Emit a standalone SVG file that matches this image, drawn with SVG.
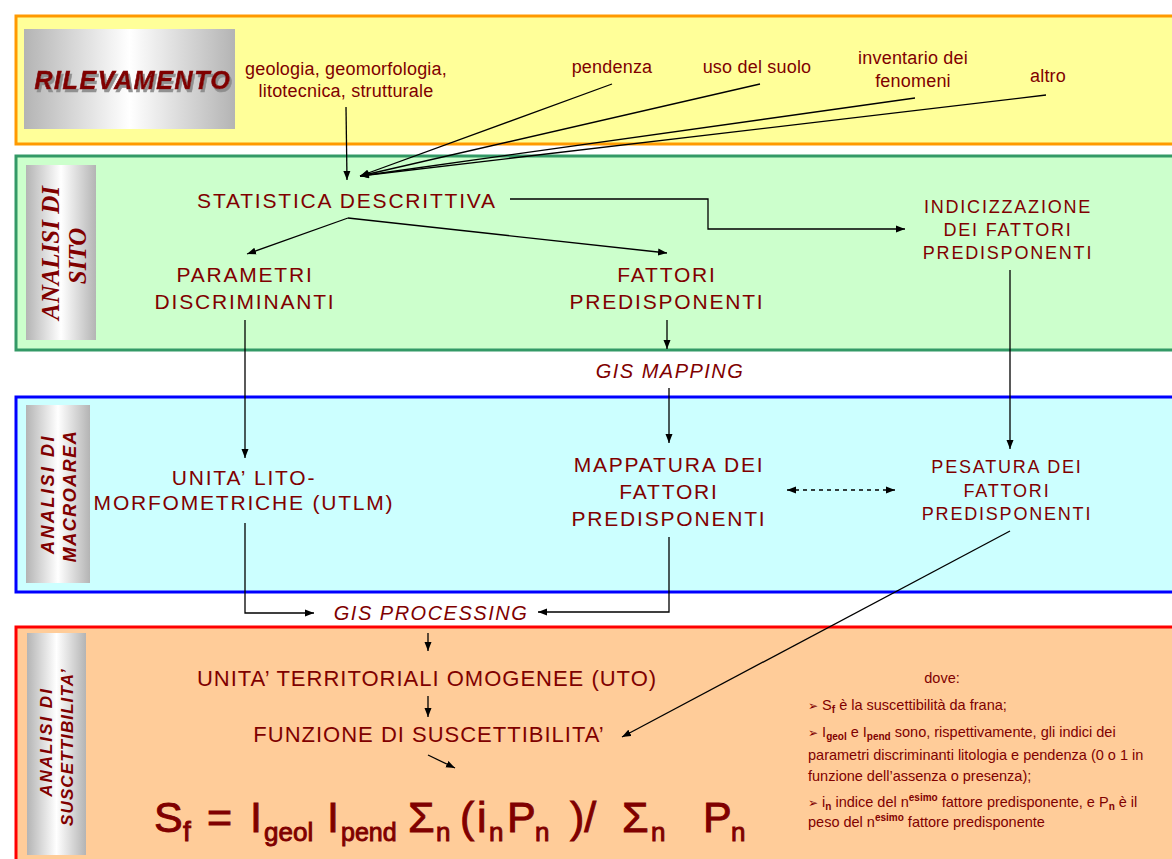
<svg xmlns="http://www.w3.org/2000/svg" width="1172" height="859" viewBox="0 0 1172 859">
<defs>
<linearGradient id="gh" x1="0" y1="0" x2="1" y2="0">
<stop offset="0" stop-color="#b4b4b4"/><stop offset="0.5" stop-color="#ffffff"/><stop offset="1" stop-color="#b4b4b4"/>
</linearGradient>
<filter id="sh" x="-10%" y="-30%" width="120%" height="160%">
<feDropShadow dx="2" dy="3" stdDeviation="0.6" flood-color="#888888" flood-opacity="0.9"/>
</filter>
<marker id="ah" markerUnits="userSpaceOnUse" markerWidth="10" markerHeight="8" refX="9" refY="4" orient="auto-start-reverse">
<path d="M0,0.5 L9,4 L0,7.5 z" fill="#000"/>
</marker>
</defs>
<style>
.t{font-family:"Liberation Sans",Arial,sans-serif;fill:#800000;text-anchor:middle}
.n{font-size:21px;letter-spacing:1.8px}
.s{font-size:18px;letter-spacing:1.8px}
.l{font-size:18px;letter-spacing:0.2px}
.g{font-size:20px;font-style:italic;letter-spacing:1.5px}
.u{font-size:22px;letter-spacing:1px}
.v{font-family:"Liberation Sans",Arial,sans-serif;font-weight:bold;font-style:italic;fill:#800000;text-anchor:middle}
.vs{font-family:"Liberation Serif","Times New Roman",serif;font-weight:bold;font-style:italic;fill:#800000;text-anchor:middle;font-size:25px}
.c{stroke:#000;stroke-width:1.3;fill:none}
.a{marker-end:url(#ah)}
.f{font-family:"Liberation Sans",Arial,sans-serif;fill:#800000;stroke:#800000;stroke-width:0.9}
.d{font-family:"Liberation Sans",Arial,sans-serif;fill:#800000;font-size:14.5px}
.b{font-family:"DejaVu Sans",sans-serif;font-size:12px}
.sb{font-size:10px;font-weight:bold}
.lab{fill:url(#gh)}
</style>
<rect width="1172" height="859" fill="#ffffff"/>

<g id="panel-rilevamento">
<rect x="16" y="16" width="1170" height="128" fill="#FFFF99" stroke="#FF9900" stroke-width="3"/>
<rect class="lab" x="24" y="29" width="211" height="100"/>
<text x="133" y="89" class="v" font-size="25" letter-spacing="1.6" stroke="#800000" stroke-width="0.6" filter="url(#sh)">RILEVAMENTO</text>
</g>

<g id="panel-sito">
<rect x="16" y="156" width="1170" height="194" fill="#CCFFCC" stroke="#339966" stroke-width="3"/>
<rect class="lab" x="26" y="165" width="70" height="175"/>
<text class="vs" transform="translate(59,253) rotate(-90)">ANALISI DI</text>
<text class="vs" transform="translate(86,256) rotate(-90)">SITO</text>
</g>

<g id="panel-macroarea">
<rect x="16" y="397" width="1170" height="195" fill="#CCFFFF" stroke="#0000FF" stroke-width="3"/>
<rect class="lab" x="26" y="405" width="64" height="178"/>
<text class="v" font-size="18" letter-spacing="2.5" transform="translate(54,494) rotate(-90)">ANALISI DI</text>
<text class="v" font-size="18" letter-spacing="1.5" transform="translate(76,496) rotate(-90)">MACROAREA</text>
</g>

<g id="panel-suscettibilita">
<rect x="16" y="627" width="1170" height="250" fill="#FFCC99" stroke="#FF0000" stroke-width="3"/>
<rect class="lab" x="27" y="633" width="59" height="222"/>
<text class="v" font-size="17" letter-spacing="2" transform="translate(52,742) rotate(-90)">ANALISI DI</text>
<text class="v" font-size="17" letter-spacing="1.1" transform="translate(73,747) rotate(-90)">SUSCETTIBILITA’</text>
</g>

<g id="connectors">
<line class="c a" x1="346" y1="107" x2="347" y2="180"/>
<line class="c a" x1="612" y1="84" x2="360" y2="176"/>
<line class="c a" x1="760" y1="84" x2="360" y2="176"/>
<line class="c a" x1="915" y1="98" x2="360" y2="176"/>
<line class="c a" x1="1046" y1="95" x2="360" y2="176"/>
<line class="c a" x1="348" y1="218" x2="247" y2="254"/>
<line class="c a" x1="348" y1="218" x2="667" y2="253"/>
<polyline class="c a" points="510,199 708,199 708,229 905,229"/>
<line class="c a" x1="667" y1="320" x2="667" y2="349"/>
<line class="c a" x1="669" y1="388" x2="669" y2="443"/>
<line class="c a" x1="1010" y1="270" x2="1010" y2="449"/>
<line class="c a" x1="245" y1="320" x2="245" y2="458"/>
<line class="c a" x1="787" y1="490" x2="895" y2="490" stroke-dasharray="4,4" marker-start="url(#ah)"/>
<polyline class="c a" points="245,523 245,613 314,613"/>
<polyline class="c a" points="669,537 669,612 538,612"/>
<line class="c a" x1="428" y1="633" x2="428" y2="651"/>
<line class="c a" x1="428" y1="696" x2="428" y2="717"/>
<line class="c a" x1="1010" y1="531" x2="622" y2="737"/>
<line class="c a" x1="428" y1="755" x2="455" y2="768"/>
</g>

<g id="n-geologia"><text class="t l" x="346" y="75">geologia, geomorfologia,</text><text class="t l" x="346" y="97">litotecnica, strutturale</text></g>
<g id="n-pendenza"><text class="t l" x="612" y="73">pendenza</text></g>
<g id="n-uso"><text class="t l" x="757" y="73">uso del suolo</text></g>
<g id="n-inventario"><text class="t l" x="913" y="64">inventario dei</text><text class="t l" x="913" y="87">fenomeni</text></g>
<g id="n-altro"><text class="t l" x="1048" y="82">altro</text></g>

<g id="n-statistica"><text class="t n" x="347" y="208" letter-spacing="1.6">STATISTICA DESCRITTIVA</text></g>
<g id="n-parametri"><text class="t n" x="245" y="282">PARAMETRI</text><text class="t n" x="245" y="309">DISCRIMINANTI</text></g>
<g id="n-fattori"><text class="t n" x="667" y="282">FATTORI</text><text class="t n" x="667" y="309">PREDISPONENTI</text></g>
<g id="n-indicizzazione"><text class="t s" x="1008" y="213">INDICIZZAZIONE</text><text class="t s" x="1008" y="236">DEI FATTORI</text><text class="t s" x="1008" y="259">PREDISPONENTI</text></g>
<g id="n-gismapping"><text class="t g" x="670" y="378">GIS MAPPING</text></g>
<g id="n-utlm"><text class="t n" x="244" y="485">UNITA’ LITO-</text><text class="t n" x="244" y="510">MORFOMETRICHE (UTLM)</text></g>
<g id="n-mappatura"><text class="t n" x="669" y="472">MAPPATURA DEI</text><text class="t n" x="669" y="499">FATTORI</text><text class="t n" x="669" y="526">PREDISPONENTI</text></g>
<g id="n-pesatura"><text class="t s" x="1007" y="473">PESATURA DEI</text><text class="t s" x="1007" y="497">FATTORI</text><text class="t s" x="1007" y="520">PREDISPONENTI</text></g>
<g id="n-gisprocessing"><text class="t g" x="431" y="620">GIS PROCESSING</text></g>
<g id="n-uto"><text class="t u" x="427" y="686" letter-spacing="0.8" font-size="23">UNITA’ TERRITORIALI OMOGENEE (UTO)</text></g>
<g id="n-funzione"><text class="t u" x="429" y="742" letter-spacing="1.2">FUNZIONE DI SUSCETTIBILITA’</text></g>

<g id="n-formula">
<text class="f" font-size="43" y="832"><tspan x="154">S</tspan><tspan x="183" y="841" font-size="28">f</tspan><tspan x="207" y="832">=</tspan><tspan x="250">I</tspan><tspan x="264" y="841" font-size="26">geol</tspan><tspan x="327" y="832">I</tspan><tspan x="341" y="841" font-size="25">pend</tspan><tspan x="408" y="832">Σ</tspan><tspan x="436" y="841" font-size="26">n</tspan><tspan x="460" y="832">(</tspan><tspan x="477">i</tspan><tspan x="489" y="841" font-size="26">n</tspan><tspan x="507" y="832">P</tspan><tspan x="535" y="841" font-size="26">n</tspan><tspan x="570" y="832">)/</tspan><tspan x="622">Σ</tspan><tspan x="651" y="841" font-size="26">n</tspan><tspan x="703" y="832">P</tspan><tspan x="731" y="841" font-size="26">n</tspan></text>
</g>

<g id="n-dove">
<text class="d" x="942" y="683" text-anchor="middle">dove:</text>
<text class="d" x="808" y="710"><tspan class="b">➢</tspan> S<tspan class="sb" dy="3">f</tspan><tspan dy="-3"> è la suscettibilità da frana;</tspan></text>
<text class="d" x="808" y="737"><tspan class="b">➢</tspan> I<tspan class="sb" dy="3">geol</tspan><tspan dy="-3"> e I</tspan><tspan class="sb" dy="3">pend</tspan><tspan dy="-3"> sono, rispettivamente, gli indici dei</tspan></text>
<text class="d" x="808" y="760">parametri discriminanti litologia e pendenza (0 o 1 in</text>
<text class="d" x="808" y="781">funzione dell’assenza o presenza);</text>
<text class="d" x="808" y="807"><tspan class="b">➢</tspan> i<tspan class="sb" dy="3">n</tspan><tspan dy="-3"> indice del n</tspan><tspan class="sb" dy="-6">esimo</tspan><tspan dy="6"> fattore predisponente, e P</tspan><tspan class="sb" dy="3">n</tspan><tspan dy="-3"> è il</tspan></text>
<text class="d" x="808" y="827">peso del n<tspan class="sb" dy="-6">esimo</tspan><tspan dy="6"> fattore predisponente</tspan></text>
</g>
</svg>
